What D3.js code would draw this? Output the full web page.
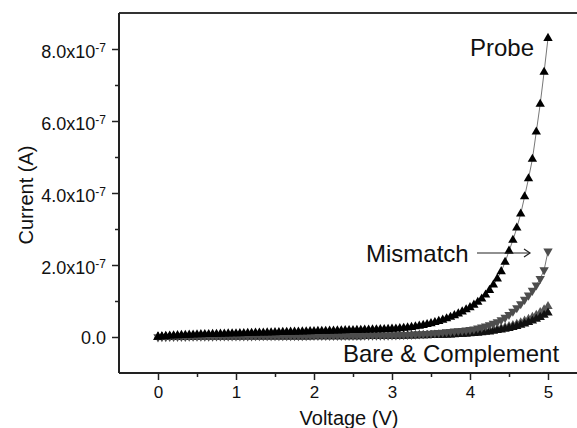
<!DOCTYPE html>
<html><head><meta charset="utf-8">
<script src="https://cdn.jsdelivr.net/npm/d3@7"></script>
<style>body{margin:0;background:#fff}svg{display:block}text{font-family:Arial,"Liberation Sans",sans-serif}</style>
</head><body><svg id="c" width="577" height="428"></svg>
<script>
// Voltage (V), sampled every 0.05 V
const voltage = [0,0.05,0.1,0.15,0.2,0.25,0.3,0.35,0.4,0.45,0.5,0.55,0.6,0.65,0.7,0.75,0.8,0.85,0.9,0.95,
1,1.05,1.1,1.15,1.2,1.25,1.3,1.35,1.4,1.45,1.5,1.55,1.6,1.65,1.7,1.75,1.8,1.85,1.9,1.95,
2,2.05,2.1,2.15,2.2,2.25,2.3,2.35,2.4,2.45,2.5,2.55,2.6,2.65,2.7,2.75,2.8,2.85,2.9,2.95,
3,3.05,3.1,3.15,3.2,3.25,3.3,3.35,3.4,3.45,3.5,3.55,3.6,3.65,3.7,3.75,3.8,3.85,3.9,3.95,
4,4.05,4.1,4.15,4.2,4.25,4.3,4.35,4.4,4.45,4.5,4.55,4.6,4.65,4.7,4.75,4.8,4.85,4.9,4.95,5];
// Currents in units of 1e-7 A
const probe = [0,0.012,0.022,0.030,0.037,0.043,0.048,0.053,0.057,0.061,0.065,0.069,0.072,0.075,0.078,0.081,0.084,0.087,0.090,0.093,
0.096,0.099,0.102,0.105,0.108,0.111,0.114,0.117,0.120,0.123,0.126,0.129,0.132,0.135,0.138,0.141,0.144,0.147,0.150,0.153,
0.156,0.159,0.162,0.165,0.168,0.171,0.174,0.177,0.180,0.183,0.186,0.189,0.192,0.195,0.198,0.201,0.205,0.209,0.213,0.217,
0.222,0.228,0.236,0.246,0.258,0.272,0.288,0.306,0.327,0.350,0.376,0.405,0.437,0.472,0.510,0.552,0.598,0.648,0.702,0.760,
0.82,0.89,0.97,1.06,1.17,1.30,1.45,1.62,1.82,2.08,2.39,2.69,3.03,3.42,3.90,4.40,4.94,5.70,6.47,7.36,8.30];
const mismatch = [0,0.004,0.007,0.009,0.011,0.012,0.013,0.014,0.015,0.016,0.017,0.018,0.019,0.020,0.021,0.022,0.023,0.024,0.025,0.026,
0.026,0.027,0.027,0.028,0.028,0.029,0.029,0.030,0.030,0.031,0.031,0.032,0.032,0.033,0.033,0.034,0.034,0.035,0.035,0.036,
0.036,0.037,0.037,0.038,0.038,0.039,0.039,0.040,0.040,0.041,0.041,0.042,0.042,0.043,0.044,0.045,0.046,0.047,0.048,0.049,
0.050,0.053,0.057,0.061,0.065,0.070,0.075,0.081,0.087,0.094,0.101,0.109,0.118,0.127,0.137,0.147,0.158,0.170,0.178,0.188,
0.20,0.22,0.245,0.27,0.30,0.335,0.375,0.42,0.475,0.54,0.62,0.71,0.81,0.92,1.04,1.16,1.29,1.44,1.62,1.86,2.38];
const complement = [0,0.002,0.004,0.005,0.006,0.007,0.008,0.009,0.010,0.010,0.011,0.011,0.012,0.012,0.013,0.013,0.014,0.014,0.015,0.015,
0.016,0.016,0.017,0.017,0.018,0.018,0.019,0.019,0.020,0.020,0.021,0.021,0.022,0.022,0.023,0.023,0.024,0.024,0.025,0.025,
0.026,0.026,0.027,0.027,0.028,0.028,0.029,0.029,0.030,0.030,0.031,0.031,0.032,0.032,0.033,0.033,0.034,0.035,0.036,0.037,
0.038,0.039,0.040,0.041,0.042,0.044,0.046,0.048,0.050,0.052,0.054,0.057,0.060,0.063,0.066,0.070,0.074,0.079,0.084,0.090,
0.11,0.12,0.13,0.145,0.16,0.175,0.195,0.215,0.24,0.265,0.295,0.325,0.36,0.40,0.445,0.495,0.55,0.61,0.68,0.76,0.85];
const bare = [0,0.0002,0.0004,0.0006,0.0008,0.001,0.0012,0.0014,0.0016,0.0018,0.002,0.0022,0.0024,0.0026,0.0028,0.003,0.0032,0.0034,0.0036,0.0038,
0.005,0.0052,0.0054,0.0056,0.0058,0.006,0.0062,0.0064,0.0066,0.0068,0.007,0.0072,0.0074,0.0076,0.0078,0.008,0.0082,0.0084,0.0086,0.0088,
0.010,0.0105,0.011,0.0115,0.012,0.0125,0.013,0.0135,0.014,0.0145,0.015,0.0155,0.016,0.0165,0.017,0.0175,0.018,0.0185,0.019,0.020,
0.022,0.024,0.026,0.028,0.030,0.032,0.034,0.037,0.040,0.043,0.046,0.049,0.052,0.056,0.060,0.064,0.069,0.074,0.080,0.087,
0.095,0.103,0.112,0.123,0.135,0.148,0.165,0.183,0.20,0.22,0.245,0.27,0.30,0.33,0.37,0.41,0.45,0.50,0.55,0.61,0.67];

const xMajorTicks = [0,1,2,3,4,5];
const xMinorTicks = [0.5,1.5,2.5,3.5,4.5];
const yMajorTicks = [0,2,4,6,8];
const yMinorTicks = [1,3,5,7];
const yTickMantissa = ["0.0","2.0","4.0","6.0","8.0"];
const yTickExponent = "-7";
const seriesNames = ["Complement","Bare","Mismatch","Probe"];
const seriesColors = ["#555555","#111111","#4d4d4d","#000000"];
const seriesSymbols = ["up","up","down","up"];
const annotations = ["Probe","Mismatch","Bare & Complement"];

const svg = d3.select("#c");
const L = 119, T = 13, B = 373;
const x = d3.scaleLinear().domain([-0.5, 5.5]).range([L, L + 6 * 78]);
const y = d3.scaleLinear().domain([-1, 9]).range([B, T]);

// Frame
svg.append("line").attr("x1", L).attr("x2", 577).attr("y1", T).attr("y2", T).attr("stroke", "#333").attr("stroke-width", 2);

const seriesData = [complement, bare, mismatch, probe];
const tri = d3.symbol().type(d3.symbolTriangle).size(38);
const line = d3.line().x((d, i) => x(voltage[i])).y(d => y(d));

seriesData.forEach((s, k) => {
  const g = svg.append("g");
  g.append("path").attr("d", line(s)).attr("fill", "none").attr("stroke", "#777").attr("stroke-width", 1);
  g.selectAll("path.m").data(s).join("path").attr("class", "m")
    .attr("d", tri)
    .attr("transform", (d, i) => `translate(${x(voltage[i])},${y(d)})` + (seriesSymbols[k] === "down" ? " rotate(180)" : ""))
    .attr("fill", seriesColors[k]);
});

// Axes
const xAxis = svg.append("g").attr("transform", `translate(0,${B})`)
  .call(d3.axisBottom(x).tickValues(xMajorTicks).tickSize(7).tickPadding(6).tickFormat(d3.format("d")));
svg.append("g").attr("transform", `translate(0,${B})`)
  .call(d3.axisBottom(x).tickValues(xMinorTicks).tickSize(4).tickFormat(""))
  .call(g => g.select(".domain").remove());
xAxis.select(".domain").attr("d", `M${L},0H577`);
const yAxis = svg.append("g").attr("transform", `translate(${L},0)`)
  .call(d3.axisLeft(y).tickValues(yMajorTicks).tickSize(7).tickFormat(""));
svg.append("g").attr("transform", `translate(${L},0)`)
  .call(d3.axisLeft(y).tickValues(yMinorTicks).tickSize(4).tickFormat(""))
  .call(g => g.select(".domain").remove());
yAxis.select(".domain").attr("d", `M0,${T}V${B}`);
svg.selectAll(".domain").attr("stroke", "#222").attr("stroke-width", 2);
svg.selectAll(".tick line").attr("stroke", "#222").attr("stroke-width", 1.5);
xAxis.selectAll(".tick text").attr("font-size", 17).attr("fill", "#111").attr("font-family", "Arial, 'Liberation Sans', sans-serif");

// Y tick labels with superscript
yMajorTicks.forEach((v, i) => {
  const t = svg.append("text").attr("x", 106).attr("y", y(v) + (v === 0 ? 6.5 : 9)).attr("text-anchor", "end")
    .attr("font-size", 18).attr("fill", "#111");
  if (v === 0) { t.text(yTickMantissa[i]); }
  else {
    t.append("tspan").text(yTickMantissa[i] + "x10");
    t.append("tspan").attr("dy", -6).attr("font-size", 12).text(yTickExponent);
  }
});

// Axis titles
svg.append("text").attr("x", 349).attr("y", 425).attr("text-anchor", "middle").attr("font-size", 20).attr("fill", "#111").text("Voltage (V)");
svg.append("text").attr("transform", "translate(33,195) rotate(-90)").attr("text-anchor", "middle").attr("font-size", 20).attr("fill", "#111").text("Current (A)");

// Annotations
svg.append("text").attr("x", 470).attr("y", 56).attr("font-size", 24).attr("fill", "#111").text(annotations[0]);
svg.append("text").attr("x", 366).attr("y", 262).attr("font-size", 24).attr("fill", "#111").text(annotations[1]);
svg.append("text").attr("x", 343).attr("y", 362).attr("font-size", 24).attr("fill", "#111").text(annotations[2]);
// Arrow
svg.append("line").attr("x1", 477).attr("x2", 530).attr("y1", 253).attr("y2", 253).attr("stroke", "#222").attr("stroke-width", 1.2);
svg.append("path").attr("d", "M524,249L530,253L524,257").attr("fill", "none").attr("stroke", "#222").attr("stroke-width", 1.2);
</script></body></html>
